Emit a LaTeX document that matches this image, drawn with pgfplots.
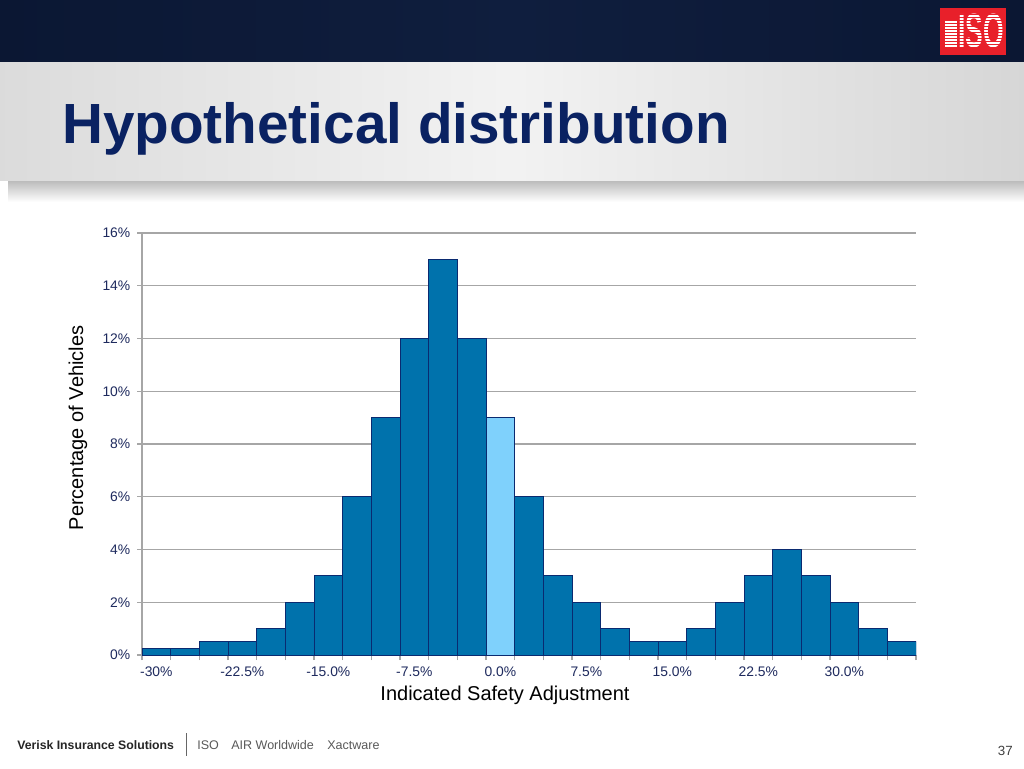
\documentclass[border=0pt]{standalone}
\usepackage{fontspec}
\setmainfont{Liberation Sans}
\usepackage{pgfplots}
\pgfplotsset{compat=1.18}
\definecolor{navy}{HTML}{0B1733}
\definecolor{navymid}{HTML}{0F1E3E}
\definecolor{titleblue}{HTML}{0A2262}
\definecolor{barblue}{HTML}{0072AC}
\definecolor{baredge}{HTML}{0A2A70}
\definecolor{lightbar}{HTML}{7FD1FC}
\definecolor{gridgray}{HTML}{A6A6A6}
\definecolor{ticknavy}{HTML}{1E2A5E}
\definecolor{isored}{HTML}{E8202A}
\begin{document}
\begin{tikzpicture}
\begin{scope}[x=0.75pt,y=-0.75pt]
\fill[white] (0,0) rectangle (1024,768);
\shade[left color=navy, right color=navy, middle color=navymid] (0,0) rectangle (1024,62);
\shade[top color=gray!55, bottom color=white] (8,180) rectangle (1024,202);
\shade[left color=black!14, right color=black!16, middle color=black!5] (0,62) rectangle (1024,180);
\node[anchor=base west, inner sep=0pt, text=titleblue, font=\bfseries\fontsize{42.5}{50}\selectfont] at (62,143) {Hypothetical distribution};
% ISO logo
\fill[isored] (940,8) rectangle (1006,55);
\node[anchor=center, inner sep=0pt, text=white, font=\bfseries\fontsize{36}{38}\selectfont] at (981,31) {\scalebox{0.55}[1]{ISO}};
\foreach \yy in {14,17,...,50} {\draw[isored, line width=0.6pt] (956,\yy) -- (1005,\yy);}
\foreach \yy in {22,25,...,46} {\draw[white, line width=1.3pt] (945,\yy) -- (957,\yy);}
% footer
\node[anchor=base west, inner sep=0pt, text=black!85, font=\bfseries\fontsize{9.2}{11}\selectfont] at (17,749) {Verisk Insurance Solutions};
\draw[black!60, line width=0.6pt] (186,733) -- (186,756);
\node[anchor=base west, inner sep=0pt, text=black!65, font=\fontsize{9.4}{11}\selectfont] at (197,749) {ISO};
\node[anchor=base west, inner sep=0pt, text=black!65, font=\fontsize{9.4}{11}\selectfont] at (231,749) {AIR Worldwide};
\node[anchor=base west, inner sep=0pt, text=black!65, font=\fontsize{9.4}{11}\selectfont] at (327,749) {Xactware};
\node[anchor=base east, inner sep=0pt, text=black!75, font=\fontsize{10}{12}\selectfont] at (1013,755) {37};
\end{scope}
\begin{axis}[
  at={(106.5pt,-491.25pt)}, anchor=south west,
  width=580.5pt, height=316.5pt, scale only axis,
  xmin=-0.5, xmax=26.5, ymin=0, ymax=16,
  axis x line*=bottom, axis y line*=left,
  axis line style={gridgray, line width=0.8pt},
  ymajorgrids, grid style={gridgray, line width=0.8pt},
  ytick={0,2,...,16}, yticklabel={\pgfmathprintnumber{\tick}\%},
  xtick={-0.5,0.5,...,26.5}, xticklabels={},
  extra x ticks={0,3,...,24},
  extra x tick labels={-30\%,-22.5\%,-15.0\%,-7.5\%,0.0\%,7.5\%,15.0\%,22.5\%,30.0\%},
  extra x tick style={major tick length=0pt, tick label style={yshift=-5.5pt}},
  tick align=outside, major tick length=3.75pt,
  tick style={gridgray, line width=0.8pt},
  ticklabel style={font=\fontsize{10.4}{12}\selectfont, text=ticknavy},
  yticklabel style={xshift=-1.5pt},
  /pgf/number format/assume math mode=true,
  xlabel={Indicated Safety Adjustment},
  ylabel={Percentage of Vehicles},
  label style={font=\fontsize{15}{18}\selectfont, text=black},
  xlabel style={at={(axis description cs:0.469,-0.0948)}, anchor=center},
  ylabel style={at={(axis description cs:-0.0827,0.538)}, anchor=center},
]
\addplot[ybar, bar width=1, bar shift=0pt, fill=barblue, draw=baredge, line width=0.7pt]
  coordinates {(0,0.25)(1,0.25)(2,0.5)(3,0.5)(4,1)(5,2)(6,3)(7,6)(8,9)(9,12)(10,15)(11,12)
  (13,6)(14,3)(15,2)(16,1)(17,0.5)(18,0.5)(19,1)(20,2)(21,3)(22,4)(23,3)(24,2)(25,1)(26,0.5)};
\addplot[ybar, bar width=1, bar shift=0pt, fill=lightbar, draw=baredge, line width=0.7pt]
  coordinates {(12,9)};
\end{axis}
\end{tikzpicture}
\end{document}
